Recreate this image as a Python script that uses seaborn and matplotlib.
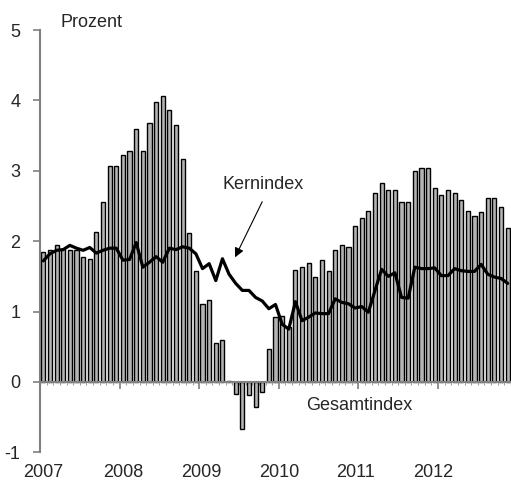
import numpy as np
import pandas as pd
import matplotlib
matplotlib.use("Agg")
import matplotlib.pyplot as plt
import seaborn as sns

# Monatswerte Jan 2007 - Nov 2012
gesamt = [1.84, 1.87, 1.94, 1.89, 1.87, 1.88, 1.78, 1.74, 2.13, 2.56, 3.07, 3.07,
          3.22, 3.28, 3.60, 3.28, 3.68, 3.98, 4.06, 3.86, 3.65, 3.17, 2.12, 1.58,
          1.11, 1.17, 0.56, 0.60, 0.02, -0.17, -0.67, -0.19, -0.36, -0.15, 0.47, 0.92,
          0.93, 0.78, 1.59, 1.63, 1.69, 1.49, 1.73, 1.58, 1.88, 1.94, 1.91, 2.21,
          2.33, 2.43, 2.68, 2.83, 2.73, 2.72, 2.56, 2.55, 2.99, 3.04, 3.04, 2.75,
          2.66, 2.73, 2.68, 2.58, 2.43, 2.36, 2.41, 2.61, 2.61, 2.49, 2.19]
kern = [1.72, 1.82, 1.87, 1.88, 1.94, 1.90, 1.87, 1.91, 1.83, 1.87, 1.90, 1.90,
        1.73, 1.74, 1.98, 1.63, 1.70, 1.78, 1.70, 1.90, 1.88, 1.92, 1.90, 1.82,
        1.61, 1.68, 1.44, 1.75, 1.53, 1.40, 1.30, 1.30, 1.20, 1.15, 1.04, 1.10,
        0.82, 0.75, 1.14, 0.87, 0.92, 0.98, 0.97, 0.97, 1.18, 1.13, 1.11, 1.05,
        1.07, 0.99, 1.30, 1.60, 1.50, 1.55, 1.20, 1.19, 1.63, 1.61, 1.61, 1.62,
        1.51, 1.51, 1.61, 1.58, 1.57, 1.57, 1.67, 1.53, 1.49, 1.47, 1.40]
jahre = ["2007", "2008", "2009", "2010", "2011", "2012"]

df = pd.DataFrame({"monat": np.arange(len(gesamt)), "gesamt": gesamt, "kern": kern})

sns.set_style("white")
plt.rcParams['font.family'] = ['Liberation Sans', 'DejaVu Sans']

fig = plt.figure(figsize=(5.11, 4.82), dpi=100)
ax = fig.add_axes([40 / 511, 29.7 / 482, 471 / 511, 422.3 / 482])

sns.barplot(data=df, x="monat", y="gesamt", color="#b4b4b4", saturation=1,
            edgecolor="black", linewidth=1.0, width=0.62, ax=ax)
sns.lineplot(data=df, x="monat", y="kern", color="black", linewidth=2.3, ax=ax)

ax.set_xlim(-0.4, 70.5)
ax.set_ylim(-1, 5)
ax.set_xlabel("")
ax.set_ylabel("")

# Achsen
for s in ["top", "right"]:
    ax.spines[s].set_visible(False)
ax.spines["left"].set_color("#808080")
ax.spines["left"].set_linewidth(1.5)
ax.spines["bottom"].set_position(("data", 0))
ax.spines["bottom"].set_color("#808080")
ax.spines["bottom"].set_linewidth(1.5)

ax.set_yticks(range(-1, 6))
ax.set_yticklabels([str(v) for v in range(-1, 6)], fontsize=13)
ax.tick_params(axis="y", direction="out", length=5, width=1.2, color="#808080",
               pad=9, left=True)

grenzen = [11.5 + 12 * k for k in range(5)]
ax.set_xticks(grenzen)
ax.set_xticklabels([""] * len(grenzen))
ax.set_xticks(np.arange(-0.5, 71, 1), minor=True)
ax.tick_params(axis="x", which="major", direction="out", length=5, width=1.2,
               color="#808080", bottom=True)
ax.tick_params(axis="x", which="minor", direction="out", length=2, width=0.8,
               color="#a0a0a0", bottom=True)

label_pos = [0.05, 12.1, 23.75, 35.5, 47.1, 58.8]
for xp, j in zip(label_pos, jahre):
    ax.text(xp, -1.29, j, ha="center", va="center", fontsize=13, clip_on=False)

ax.text(2.6, 5.1, "Prozent", ha="left", va="center", fontsize=13, clip_on=False)
ax.text(33.1, 2.8, "Kernindex", ha="center", va="center", fontsize=13)
ax.annotate("", xy=(28.9, 1.77), xytext=(33.0, 2.56),
            arrowprops=dict(arrowstyle="-|>", color="black", lw=0.8,
                            mutation_scale=14, shrinkA=0, shrinkB=0))
ax.text(47.6, -0.34, "Gesamtindex", ha="center", va="center", fontsize=13)

fig.savefig("out.png", dpi=100)
